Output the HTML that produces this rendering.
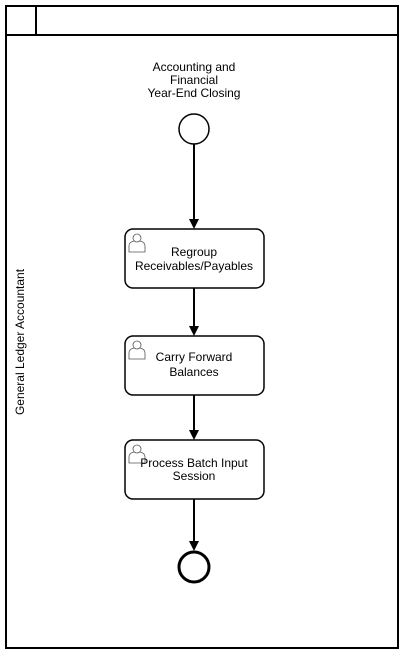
<!DOCTYPE html>
<html><head><style>body{margin:0;background:#fff}svg{display:block}text{font-family:"Liberation Sans",sans-serif;font-size:12px;fill:#000}</style></head>
<body>
<svg width="404" height="654" xmlns="http://www.w3.org/2000/svg">
<rect x="6" y="6" width="392" height="642" fill="#fff" stroke="#000" stroke-width="2"/>
<line x1="6" y1="35" x2="398" y2="35" stroke="#000" stroke-width="2"/>
<line x1="36" y1="6" x2="36" y2="35" stroke="#000" stroke-width="2"/>
<text transform="translate(24,342) rotate(-90)" text-anchor="middle" font-size="11">General Ledger Accountant</text>
<g text-anchor="middle" font-size="11">
<text x="194" y="71">Accounting and</text>
<text x="194" y="84">Financial</text>
<text x="194" y="97">Year-End Closing</text>
</g>
<circle cx="194" cy="129" r="15" fill="#fff" stroke="#000" stroke-width="1.5"/>
<g stroke="#000" stroke-width="2">
<line x1="194" y1="144" x2="194" y2="220"/>
<line x1="194" y1="288" x2="194" y2="327"/>
<line x1="194" y1="395" x2="194" y2="431"/>
<line x1="194" y1="499" x2="194" y2="542"/>
</g>
<g fill="#000">
<polygon points="189,219 199,219 194,229"/>
<polygon points="189,326 199,326 194,336"/>
<polygon points="189,430 199,430 194,440"/>
<polygon points="189,541 199,541 194,551"/>
</g>
<g fill="#fff" stroke="#000" stroke-width="1.5">
<rect x="125" y="229" width="139" height="59" rx="8"/>
<rect x="125" y="336" width="139" height="59" rx="8"/>
<rect x="125" y="440" width="139" height="59" rx="8"/>
</g>
<g fill="#fff" stroke="#555" stroke-width="0.8">
<path d="M129 252 v-6 q0-4 5-5 h6 q5 1 5 5 v6 z"/><circle cx="137" cy="238" r="4"/>
<path d="M129 359 v-6 q0-4 5-5 h6 q5 1 5 5 v6 z"/><circle cx="137" cy="345" r="4"/>
<path d="M129 463 v-6 q0-4 5-5 h6 q5 1 5 5 v6 z"/><circle cx="137" cy="449" r="4"/>
</g>
<g text-anchor="middle">
<text x="194" y="256">Regroup</text>
<text x="194" y="270">Receivables/Payables</text>
<text x="194" y="361">Carry Forward</text>
<text x="194" y="376">Balances</text>
<text x="194" y="467">Process Batch Input</text>
<text x="194" y="480">Session</text>
</g>
<circle cx="194" cy="567" r="15" fill="#fff" stroke="#000" stroke-width="3"/>
</svg>
</body></html>
